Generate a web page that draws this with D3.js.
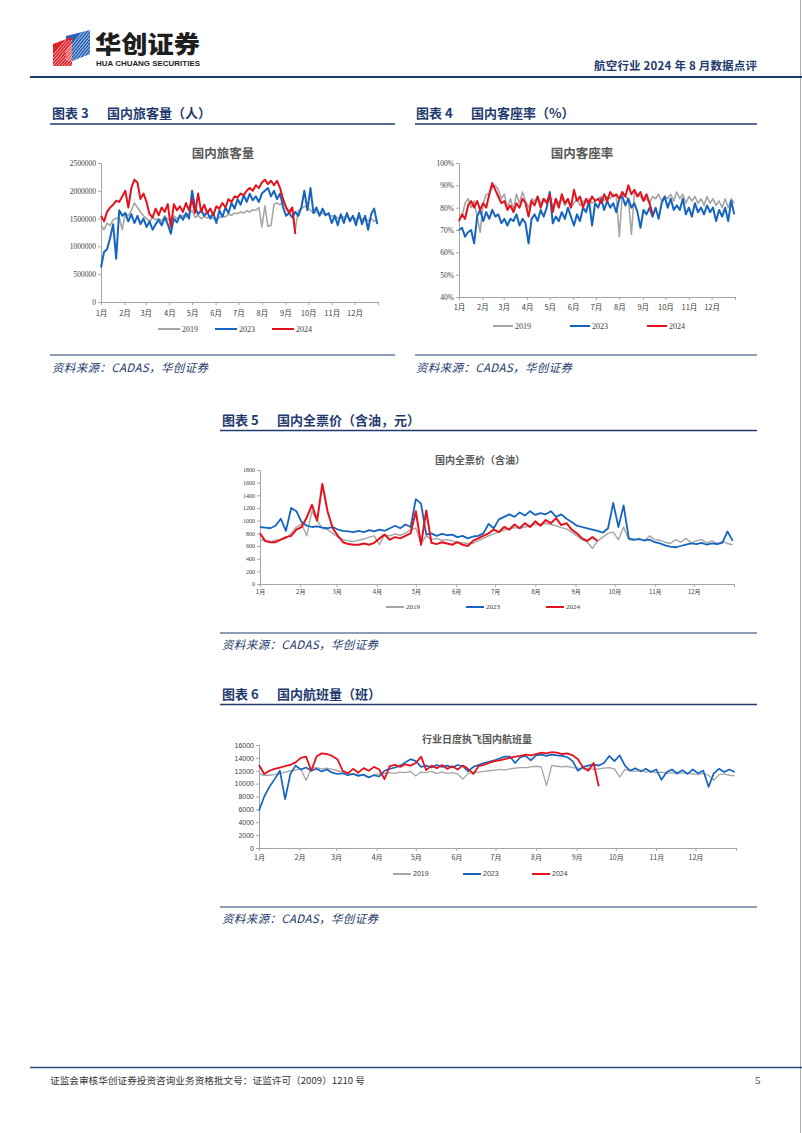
<!DOCTYPE html>
<html><head><meta charset="utf-8">
<script src="https://cdn.jsdelivr.net/npm/d3@7"></script>
<style>body{margin:0;background:#fff}svg{display:block}</style>
</head><body>
<svg id="page" width="802" height="1133"></svg>
<script>
// ---------- DATA (sampled every STEP days from Jan 1) ----------
const STEP = 4;
const monthStarts = [0,31,59,90,120,151,181,212,243,273,304,334,365];
const monthLabels = ["1月","2月","3月","4月","5月","6月","7月","8月","9月","10月","11月","12月"];
const seriesNames = ["2019","2023","2024"];

// 国内旅客量 (thousand persons)
const pax2019 = [1380,1300,1420,1380,1480,1500,1520,1300,1600,1550,
 1650,1780,1700,1620,1550,1500,1450,1520,1480,1500,
 1460,1550,1480,1500,1550,1500,1520,1560,1530,1580,
 1650,1520,1560,1500,1540,1510,1550,1500,1480,1520,
 1550,1530,1580,1560,1600,1590,1620,1600,1640,1620,
 1660,1650,1700,1350,1730,1360,1380,1760,1780,1750,
 1800,1680,1650,1700,1300,1650,1680,1720,1700,1650,
 1600,1620,1580,1600,1560,1580,1540,1560,1500,1540,
 1520,1550,1500,1530,1480,1520,1480,1500,1460,1500,
 1450,1480];
const pax2023 = [620,900,950,1150,1400,780,1650,1550,1600,1450,
 1580,1420,1550,1400,1500,1350,1450,1300,1400,1480,
 1380,1520,1400,1230,1500,1430,1560,1480,1600,1500,
 2000,1700,1580,1650,1550,1620,1500,1600,1420,1650,
 1530,1700,1600,1780,1680,1850,1750,1920,1800,1950,
 1830,1900,1800,1950,2000,2050,1900,2000,1850,1950,
 1700,1550,1600,1520,1620,1550,1700,2000,1650,2050,
 1600,1700,1550,1680,1560,1600,1420,1550,1380,1580,
 1420,1600,1450,1550,1380,1600,1400,1550,1300,1580,
 1680,1400];
const pax2024 = [1550,1450,1620,1700,1750,1820,1800,1900,2000,1700,
 2050,2200,2150,1850,1950,1800,1580,1520,1680,1560,
 1700,1620,1760,1350,1760,1650,1720,1620,1780,1650,
 1850,1600,1950,1620,1750,1600,1680,1560,1720,1680,
 1780,1700,1850,1800,1900,1880,1950,1920,2000,2050,
 2000,2100,2050,2150,2200,2120,2180,2100,2180,2050,
 1850,1700,1600,1700,1220];

// 国内客座率 (%)
const lf2019 = [75,76,82,84,80,83,76,69,82,86,
 86,89,90,88,84,86,80,84,79,86,
 82,87,83,80,84,83,85,82,84,83,
 86,80,84,82,84,81,83,80,82,84,
 81,83,82,84,82,83,84,85,83,85,
 84,86,85,67,86,85,84,68,87,86,
 85,83,84,82,85,84,86,83,85,84,
 86,83,87,84,86,82,85,83,85,82,
 84,81,85,82,84,81,83,80,84,80,
 84,82];
const lf2023 = [70,71,67,69,70,64,76,79,74,78,
 75,79,76,77,73,75,72,75,74,77,
 72,75,73,64,75,77,74,79,76,80,
 87,73,76,74,78,75,80,76,72,77,
 74,80,78,83,72,82,80,84,79,83,
 80,82,78,84,85,81,84,80,82,78,
 71,79,77,80,76,80,75,82,85,80,
 84,79,81,79,84,77,80,76,82,78,
 80,77,81,78,80,74,79,76,80,74,
 83,77];
const lf2024 = [74,77,75,81,83,80,83,79,82,80,
 86,91,88,85,82,83,79,81,78,82,
 80,84,82,76,83,81,85,80,84,82,
 86,78,84,80,86,82,84,80,88,83,
 85,80,84,82,85,83,84,82,86,83,
 87,85,86,84,87,85,90,86,88,85,
 87,83,86,82,77];

// 国内全票价（含油，元）
const fare2019 = [700,680,670,690,700,720,800,900,950,760,
 1150,1000,880,860,800,740,700,680,670,690,
 710,740,760,620,780,760,790,770,800,860,
 880,640,760,700,720,690,700,680,660,650,
 640,640,680,720,760,790,820,850,870,890,
 880,900,920,940,950,960,940,920,890,870,
 820,760,700,660,560,680,740,800,820,700,
 900,700,690,720,680,760,700,690,660,640,
 700,660,720,650,680,700,650,680,640,670,
 640,620];
const fare2023 = [900,890,880,920,1030,840,1200,1150,980,920,
 900,910,890,880,900,860,840,830,820,840,
 820,850,830,860,840,880,920,880,940,900,
 1340,1270,780,800,760,790,770,780,740,760,
 720,750,760,800,950,880,1020,1060,1100,1060,
 1130,1080,1150,1090,1120,1100,1150,1060,1100,1030,
 980,920,900,880,860,840,810,880,1280,900,
 1240,720,700,710,690,700,660,640,610,590,
 580,600,620,640,630,650,620,640,630,650,
 830,680];
const fare2024 = [800,680,660,660,700,740,760,860,900,1050,
 1250,1000,1580,1150,880,760,660,630,620,620,
 640,620,650,720,780,700,740,720,760,800,
 1150,620,1160,650,630,660,640,620,660,620,
 600,680,720,760,800,860,820,900,860,940,
 880,960,900,990,920,1010,960,1040,930,960,
 860,800,720,680,740,680];

// 行业日度执飞国内航班量 (flights)
const flt2019 = [11500,11300,11300,11400,11600,11800,12000,12100,12300,10500,
 12400,12500,12300,12400,12200,12000,11800,11600,11500,11400,
 11300,10900,11400,11500,11600,11700,11600,11800,11700,11900,
 11200,11800,11700,11900,11600,11800,11600,11700,11500,10700,
 11600,11700,11800,11900,12000,12100,12200,12100,12300,12400,
 12500,12500,12600,12700,12600,9700,12800,12700,12600,12700,
 12500,12400,12300,12400,12200,12300,12400,12500,12300,11000,
 12200,12000,11900,12100,11800,11900,11700,11800,11600,11700,
 11500,11700,11600,11500,11400,11600,11300,10500,11400,11500,
 11300,11200];
const flt2023 = [5800,8000,9500,10700,12000,7600,11500,12800,12200,12500,
 12000,12300,11900,12200,11700,11500,11600,11300,11500,11200,
 11400,11000,11300,11100,12000,12300,12500,12800,13300,13800,
 13500,12600,12800,12500,12900,12600,12800,12500,12900,12700,
 11900,12600,12900,13200,13400,13600,13900,14200,14200,13200,
 14100,14300,13600,14400,14500,14300,14500,14400,14300,14100,
 13500,12000,12600,12800,13000,12800,13200,14300,13500,14400,
 12800,12000,12400,11900,12300,11800,12200,10600,11800,12200,
 11600,12100,11500,12200,11600,12000,9500,11600,12300,11800,
 12200,11800];
const flt2024 = [12900,11500,12000,12300,12500,12700,12900,13300,14000,14200,
 12000,14200,14700,14600,14300,13800,12000,11600,12300,11700,
 12400,12000,12600,12200,10700,12700,12900,12600,13000,12800,
 13200,14200,12100,12800,12400,12900,12300,12700,12200,12800,
 12300,11500,12700,12900,13200,13500,13600,13800,14000,14200,
 14300,14500,14400,14600,14800,14700,14900,14800,14600,14700,
 14400,13800,12500,12000,13200,9600];

// ---------- STYLE ----------
const NAVY = "#1f3a6e";
const COLORS = ["#a5a5a5", "#1565c0", "#e5121b"];
const CJK = "'Noto Sans CJK SC','Noto Sans',sans-serif";
const SERIF = "'Liberation Serif','DejaVu Serif',serif";
const SANS = "'Liberation Sans',Arial,sans-serif";

const svg = d3.select("#page");
svg.append("rect").attr("width",802).attr("height",1133).attr("fill","#fff");
svg.append("line").attr("x1",800.5).attr("x2",800.5).attr("y1",0).attr("y2",1133).attr("stroke","#b0b0b0").attr("stroke-width",1);

// ---------- HEADER ----------
const logo = svg.append("g");
const defs = svg.append("defs");
defs.append("clipPath").attr("id","lclipR").append("polygon").attr("points","53,44 72,37 72,66 53,66");
defs.append("clipPath").attr("id","lclipB").append("polygon").attr("points","66,36 90,30 90,54 72,61 66,61");
logo.append("polygon").attr("points","66,36 90,30 90,54 72,61 66,61").attr("fill","#2a63b8");
logo.append("polygon").attr("points","53,44 72,37 72,66 53,66").attr("fill","#e0242b");
const stripes = d3.range(0,14);
logo.append("g").attr("clip-path","url(#lclipR)").selectAll("line").data(stripes).join("line")
  .attr("x1",d=>40+d*3).attr("y1",70).attr("x2",d=>66+d*3).attr("y2",40)
  .attr("stroke","#fff").attr("stroke-width",0.8).attr("opacity",0.85);
logo.append("g").attr("clip-path","url(#lclipB)").selectAll("line").data(stripes).join("line")
  .attr("x1",d=>58+d*3).attr("y1",62).attr("x2",d=>84+d*3).attr("y2",30)
  .attr("stroke","#fff").attr("stroke-width",0.8).attr("opacity",0.85);

svg.append("text").attr("x",95).attr("y",53).text("华创证券")
  .attr("font-family",CJK).attr("font-weight",900).attr("font-size",24).attr("fill","#1e1e1e")
  .attr("textLength",105).attr("lengthAdjust","spacingAndGlyphs");
svg.append("text").attr("x",96).attr("y",66).text("HUA CHUANG SECURITIES")
  .attr("font-family",SANS).attr("font-weight",700).attr("font-size",7.4).attr("fill","#1e1e1e")
  .attr("textLength",104).attr("lengthAdjust","spacingAndGlyphs");
svg.append("text").attr("x",757).attr("y",70).attr("text-anchor","end").text("航空行业 2024 年 8 月数据点评")
  .attr("font-family",CJK).attr("font-weight",700).attr("font-size",11.5).attr("fill",NAVY)
  .attr("textLength",163).attr("lengthAdjust","spacing");
svg.append("line").attr("x1",30).attr("x2",802).attr("y1",77).attr("y2",77).attr("stroke",NAVY).attr("stroke-width",2);

// ---------- FOOTER ----------
svg.append("line").attr("x1",30).attr("x2",802).attr("y1",1067.5).attr("y2",1067.5).attr("stroke","#2b4c7e").attr("stroke-width",1.6);
svg.append("text").attr("x",50).attr("y",1084).text("证监会审核华创证券投资咨询业务资格批文号：证监许可（2009）1210 号")
  .attr("font-family",CJK).attr("font-size",9.5).attr("fill","#333")
  .attr("textLength",315).attr("lengthAdjust","spacingAndGlyphs");
svg.append("text").attr("x",755).attr("y",1084).text("5").attr("font-family",SERIF).attr("font-size",11).attr("fill","#333");

// ---------- SECTION TITLES & SOURCES ----------
function sectionTitle(x, y, num, label, lx1, lx2, ly){
  svg.append("text").attr("x",x).attr("y",y).text("图表 " + num)
    .attr("font-family",CJK).attr("font-weight",700).attr("font-size",13).attr("fill",NAVY);
  svg.append("text").attr("x",x+55).attr("y",y).text(label)
    .attr("font-family",CJK).attr("font-weight",700).attr("font-size",13).attr("fill",NAVY);
  svg.append("line").attr("x1",lx1).attr("x2",lx2).attr("y1",ly).attr("y2",ly).attr("stroke",NAVY).attr("stroke-width",1.3);
}
function sourceLine(x, y, lx1, lx2, ly){
  svg.append("line").attr("x1",lx1).attr("x2",lx2).attr("y1",ly).attr("y2",ly).attr("stroke",NAVY).attr("stroke-width",1.2);
  svg.append("text").attr("x",x).attr("y",y).text("资料来源：CADAS，华创证券")
    .attr("font-family",CJK).attr("font-style","italic").attr("font-size",11.5).attr("fill",NAVY)
    .attr("textLength",156).attr("lengthAdjust","spacing");
}
sectionTitle(52,118,"3","国内旅客量（人）",50,395,124);
sectionTitle(416,118,"4","国内客座率（%）",415,757,124);
sectionTitle(222,425,"5","国内全票价（含油，元）",220,757,430.5);
sectionTitle(222,699,"6","国内航班量（班）",220,757,704.5);
sourceLine(52,372,50,395,355);
sourceLine(416,372,415,757,355);
sourceLine(222,649,220,757,633);
sourceLine(222,923,220,757,907);

// ---------- CHARTS ----------
const charts = [
 {series:[pax2019,pax2023,pax2024], scale:1000, x0:101, x1:378, yTop:163, yBot:302, yMin:0, yMax:2500000, yStep:500000,
  fmt:d=>String(d), yFont:SERIF, ySize:7.5, mSize:7.5, mDy:14, title:"国内旅客量", tx:223, ty:158, tSize:12.5,
  legY:329, legX:[158,215,272], legLen:22, legFont:SERIF, legSize:8, widths:[1.6,2,2]},
 {series:[lf2019,lf2023,lf2024], scale:1, x0:459, x1:735, yTop:163, yBot:297, yMin:40, yMax:100, yStep:10,
  fmt:d=>d+"%", yFont:SERIF, ySize:7.5, mSize:7.5, mDy:13, title:"国内客座率", tx:582, ty:158, tSize:12.5,
  legY:326, legX:[493,570,647], legLen:20, legFont:SERIF, legSize:8, widths:[1.6,2,2]},
 {series:[fare2019,fare2023,fare2024], scale:1, x0:260, x1:734, yTop:470, yBot:584, yMin:0, yMax:1800, yStep:200,
  fmt:d=>String(d), yFont:SERIF, ySize:6, mSize:6, mDy:10, title:"国内全票价（含油）", tx:480, ty:464, tSize:10,
  legY:607, legX:[386,466,546], legLen:18, legFont:SERIF, legSize:7, widths:[1.4,1.8,2]},
 {series:[flt2019,flt2023,flt2024], scale:1, x0:259, x1:736, yTop:745, yBot:848, yMin:0, yMax:16000, yStep:2000,
  fmt:d=>String(d), yFont:SANS, ySize:7, mSize:7, mDy:12, title:"行业日度执飞国内航班量", tx:477, ty:743, tSize:10,
  legY:874, legX:[393,463,532], legLen:18, legFont:SANS, legSize:7, widths:[1.3,1.7,1.8]}
];

charts.forEach(c => {
  const g = svg.append("g");
  const x = d3.scaleLinear().domain([0,365]).range([c.x0,c.x1]);
  const y = d3.scaleLinear().domain([c.yMin,c.yMax]).range([c.yBot,c.yTop]);

  g.append("text").attr("x",c.tx).attr("y",c.ty).attr("text-anchor","middle").text(c.title)
    .attr("font-family",CJK).attr("font-weight",700).attr("font-size",c.tSize).attr("fill","#595959");

  const ya = g.append("g").attr("transform",`translate(${c.x0},0)`)
    .call(d3.axisLeft(y).tickValues(d3.range(c.yMin,c.yMax+c.yStep/2,c.yStep)).tickSize(3).tickPadding(2).tickFormat(c.fmt));
  ya.selectAll("text").attr("font-family",c.yFont).attr("font-size",c.ySize).attr("fill","#404040");
  ya.selectAll("line,path").attr("stroke","#a6a6a6");

  const xa = g.append("g").attr("transform",`translate(0,${c.yBot})`)
    .call(d3.axisBottom(x).tickValues(monthStarts).tickSize(3).tickPadding(2).tickFormat((d,i)=> i<12?monthLabels[i]:""));
  xa.selectAll("text").attr("font-family",CJK).attr("font-size",c.mSize).attr("fill","#404040").attr("dy",null).attr("y",c.mDy);
  xa.selectAll("line,path").attr("stroke","#a6a6a6");

  const line = d3.line().x((d,i)=>x(i*STEP)).y(d=>y(d*c.scale)).curve(d3.curveLinear);
  c.series.forEach((s,k)=>{
    g.append("path").datum(s).attr("d",line).attr("fill","none")
      .attr("stroke",COLORS[k]).attr("stroke-width",c.widths[k]).attr("stroke-linejoin","round");
  });

  seriesNames.forEach((n,k)=>{
    g.append("line").attr("x1",c.legX[k]).attr("x2",c.legX[k]+c.legLen).attr("y1",c.legY).attr("y2",c.legY)
      .attr("stroke",COLORS[k]).attr("stroke-width",2);
    g.append("text").attr("x",c.legX[k]+c.legLen+2).attr("y",c.legY+c.legSize*0.35).text(n)
      .attr("font-family",c.legFont).attr("font-size",c.legSize).attr("fill","#404040");
  });
});
</script>
</body></html>
